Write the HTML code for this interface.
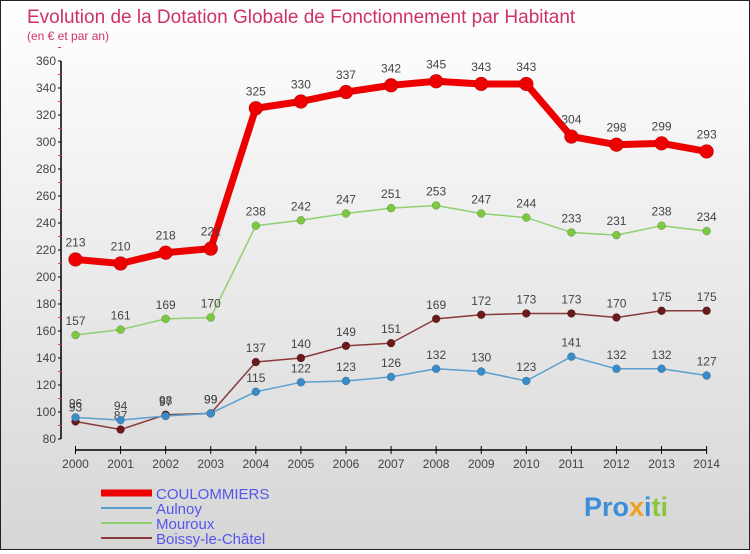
<!DOCTYPE html>
<html><head><meta charset="utf-8"><style>
html,body{margin:0;padding:0}
body{width:750px;height:550px;overflow:hidden;font-family:"Liberation Sans",sans-serif}
#wrap{position:relative;width:748px;height:548px;border:1px solid #222;background:linear-gradient(#ffffff,#d6d6d6)}
svg text{font-family:"Liberation Sans",sans-serif}
</style></head><body>
<div id="wrap">
<svg id="chart" width="748" height="548" xmlns="http://www.w3.org/2000/svg">
<text x="26" y="22" font-size="19" fill="#d0306a">Evolution de la Dotation Globale de Fonctionnement par Habitant</text>
<text x="26" y="39" font-size="12" fill="#d0306a">(en € et par an)</text>
<g id="axes"></g><g id="series"></g><g id="legend"></g>
<text x="583" y="515" font-size="27" font-weight="bold" fill="#3a8fd8">Pro<tspan fill="#f0a020">x</tspan><tspan fill="#3a8fd8">i</tspan><tspan fill="#8cc63f">ti</tspan></text>
</svg>
</div>
<script>
const years=[2000,2001,2002,2003,2004,2005,2006,2007,2008,2009,2010,2011,2012,2013,2014];
const yTicks=[80,100,120,140,160,180,200,220,240,260,280,300,320,340,360];
const coulommiers=[213,210,218,221,325,330,337,342,345,343,343,304,298,299,293];
const aulnoy=[96,94,97,99,115,122,123,126,132,130,123,141,132,132,127];
const mouroux=[157,161,169,170,238,242,247,251,253,247,244,233,231,238,234];
const boissy=[93,87,98,99,137,140,149,151,169,172,173,173,170,175,175];
const NS='http://www.w3.org/2000/svg';
function xS(i){return 74.5+i*45.08;}
function yS(v){return 438-(v-80)*(378/280);}
function mk(tag,attrs,parent,txt){const e=document.createElementNS(NS,tag);for(const k in attrs)e.setAttribute(k,attrs[k]);if(txt!==undefined)e.textContent=txt;parent.appendChild(e);return e;}
const axes=document.getElementById('axes');
const ya=mk('line',{x1:60,y1:yS(360),x2:60,y2:yS(80),stroke:'#000','stroke-width':1.5},axes);


yTicks.forEach(v=>{
 mk('line',{x1:57,y1:yS(v),x2:60,y2:yS(v),stroke:'#000'},axes);
 mk('line',{x1:57,y1:yS(v+10),x2:60,y2:yS(v+10),stroke:'#f33'},axes);
 const t=mk('text',{x:55,y:yS(v)+4,'text-anchor':'end','font-size':12,fill:'#444'},axes,String(v));
 
 
});
const xa=mk('line',{x1:xS(0),y1:449,x2:xS(14),y2:449,stroke:'#000','stroke-width':1.5},axes);


years.forEach((y,i)=>{
 mk('line',{x1:xS(i),y1:445,x2:xS(i),y2:453,stroke:'#000'},axes);
 const t=mk('text',{x:xS(i),y:467,'text-anchor':'middle','font-size':12,fill:'#444'},axes,String(y));
 
 
});
const ser=document.getElementById('series');
function draw(vals,color,dot,w,r,name,labelOff){
 const g=mk('g',{},ser);
 
 
 const l=mk('polyline',{points:vals.map((v,i)=>xS(i)+','+yS(v)).join(' '),fill:'none',stroke:color,'stroke-width':w,'stroke-linejoin':'round'},g);
 
 
 vals.forEach((v,i)=>{
  const c=mk('circle',{cx:xS(i),cy:yS(v),r:r,fill:dot,stroke:'rgba(0,0,0,0.3)','stroke-width':0.5},g);
  
  
  const t=mk('text',{x:xS(i),y:yS(v)-labelOff,'text-anchor':'middle','font-size':12,fill:'#444'},g,String(v));
  
  
 });
}
draw(boissy,'#8b3a3a','#6a1a1a',1.5,4,'boissy',10);
draw(aulnoy,'#5aa0d0','#3a8cc8',1.5,4,'aulnoy',10);
draw(mouroux,'#90d070','#7cc840',1.5,4,'mouroux',10);
draw(coulommiers,'#ee0000','#ee0000',7,7,'coulommiers',13);
const lg=document.getElementById('legend');
const items=[['COULOMMIERS','#ee0000',7],['Aulnoy','#5aa0d0',2],['Mouroux','#90d070',2],['Boissy-le-Châtel','#8b3a3a',2]];
items.forEach((it,i)=>{
 const y=492+i*15;
 const g=mk('g',{},lg);
 
 
 mk('line',{x1:100,y1:y,x2:151,y2:y,stroke:it[1],'stroke-width':it[2]},g);
 mk('text',{x:155,y:y+6,'font-size':15,fill:'#5555ee'},g,it[0]);
});
</script>
</body></html>
